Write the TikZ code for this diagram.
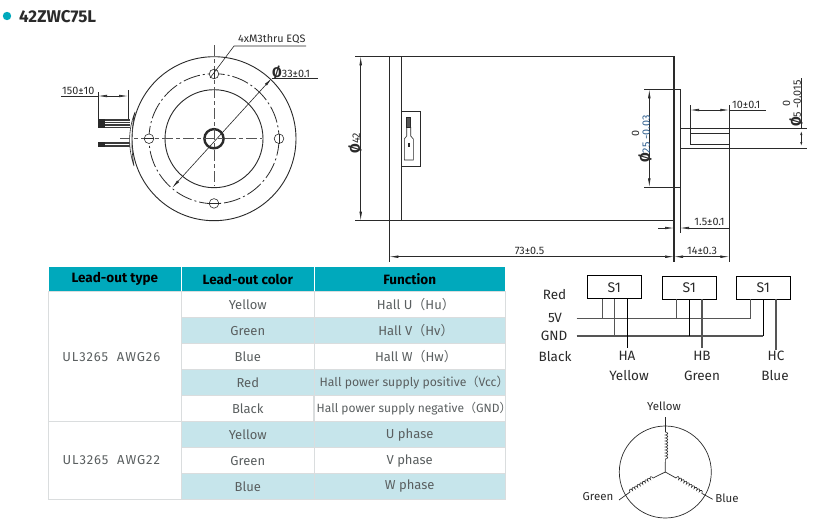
\documentclass[tikz,border=0pt]{standalone}
\usepackage{fontspec}
\setmainfont{Fira Sans}
\newfontfamily\cjk{Noto Sans CJK SC}
\usepackage{tikz}
\usetikzlibrary{arrows.meta,decorations.pathmorphing}
\definecolor{tealhead}{HTML}{00A9BC}
\definecolor{tealrow}{HTML}{C6E5EB}
\definecolor{cellline}{HTML}{DADDDE}
\definecolor{cellgray}{HTML}{5A5F60}
\definecolor{inkdark}{HTML}{2A2A2A}
\definecolor{inkwire}{HTML}{555555}
\definecolor{inkblue}{HTML}{2F5F8F}
\newcommand{\lp}{{\cjk（}}
\newcommand{\rp}{{\cjk）}\hspace*{-.5em}}
\tikzset{
	cell/.style={draw=cellline, line width=.9pt, inner sep=0pt, outer sep=0pt, text=cellgray, font=\fontsize{13}{15}\selectfont, align=center},
	colA/.style={cell, minimum width=133pt},
	colB/.style={cell, minimum width=133pt, minimum height=26pt},
	colC/.style={cell, minimum width=190.7pt, minimum height=26pt},
	head/.style={fill=tealhead, draw=white, text=black, font=\fontsize{13.5}{15}\selectfont\bfseries, minimum height=25pt},
	alt/.style={fill=tealrow},
	dimtext/.style={inner sep=0pt, text=inkdark, font=\fontsize{10.8}{12}\selectfont},
	wiretext/.style={inner sep=0pt, text=inkdark, font=\fontsize{13.5}{16}\selectfont},
	sbox/.style={draw=black, line width=.8pt, minimum width=54pt, minimum height=23pt, inner sep=0pt, outer sep=0pt, text=inkdark, font=\fontsize{14}{16}\selectfont},
	bodyline/.style={draw=inkdark, line width=.9pt},
	thinline/.style={draw=inkdark, line width=.6pt},
	dimboth/.style={thinline, {Latex[length=9pt,width=2.6pt]}-{Latex[length=9pt,width=2.6pt]}},
	dimleft/.style={thinline, {Latex[length=9pt,width=2.6pt]}-},
	dimright/.style={thinline, -{Latex[length=9pt,width=2.6pt]}},
	wire/.style={draw=inkwire, line width=1.3pt},
	wirekey/.style={draw=black, line width=.9pt},
	centerline/.style={draw=inkwire, line width=.7pt, dash pattern=on 11pt off 3pt on 4pt off 3pt},
	coilpart/.style={draw=inkdark, line width=.6pt, decorate, decoration={bumps, amplitude=2.4pt, segment length=6pt}},
}
\begin{document}
\begin{tikzpicture}[x=1pt, y=-1pt]
	\useasboundingbox (0,0) rectangle (840,522);
	\fill[white] (0,0) rectangle (840,522);
	\fill[tealhead] (7,16) circle (4.2);
	\node[anchor=west, inner sep=0pt, font=\fontsize{17}{19}\selectfont\bfseries, text=inkdark] (title) at (19,17) {42ZWC75L};

	\coordinate (hub) at (214,138.7);
	\draw[bodyline] (hub) circle (82);
	\draw[thinline, line width=.8pt, dash pattern=on 17pt off 3pt on 2pt off 3pt] (hub) circle (65);
	\draw[bodyline] (hub) circle (49);
	\draw[inkdark, line width=2.4pt] (hub) circle (9.6);
	\draw[centerline] (214,45) -- (214,186);
	\draw[centerline] (120,138.7) -- (262,138.7);
	\draw[thinline, fill=white] (214,74) circle (4.8);
	\draw[thinline, fill=white] (149,138.7) circle (4.8);
	\draw[thinline, fill=white] (279,138.7) circle (4.8);
	\draw[thinline, fill=white] (214,203.4) circle (4.8);
	\draw[thinline] (214,69) -- (214,79);
	\draw[thinline] (144,138.7) -- (154,138.7);
	\draw[thinline] (279,134) -- (279,144);
	\draw[thinline] (209,203.4) -- (219,203.4);
	\draw[thinline] (210,78) -- (234,46) -- (306,46);
	\node[dimtext, anchor=west] (holes) at (238,39.5) {4xM3thru EQS};
	\draw[dimboth] (172,188) -- (272,78);
	\draw[thinline] (272,78) -- (318,78);
	\node[dimtext, anchor=west] (boreDia) at (272,73) {{\fontsize{14}{14}\selectfont\bfseries Ø}33±0.1};
	\draw[thinline] (61,96) -- (98,96);
	\draw[dimright] (116,96) -- (98,96);
	\draw[dimright] (112,96) -- (128,96);
	\draw[thinline] (98,92) -- (98,122);
	\draw[thinline] (128,90) -- (128,120);
	\node[dimtext, anchor=west] (leadLen) at (62,91) {150±10};
	\fill[inkwire!70!black] (98,119) rectangle (130,127.5);
	\fill[inkdark] (98,119) rectangle (105,127.5);
	\draw[white, line width=.3pt] (105,121) -- (130,121);
	\draw[white, line width=.3pt] (105,123.5) -- (130,123.5);
	\draw[white, line width=.3pt] (105,125.7) -- (130,125.7);
	\fill[inkwire!70!black] (98,142) rectangle (130,147);
	\fill[inkdark] (98,142) rectangle (105,147);
	\draw[white, line width=.3pt] (105,144.5) -- (130,144.5);
	\draw[thinline, fill=white] (135,112) .. controls (128,130) and (128,148) .. (134,166) .. controls (131,148) and (131,130) .. (135,112) -- cycle;

	\draw[bodyline] (355,56.3) -- (674,56.3);
	\draw[bodyline] (355,220.7) -- (674,220.7);
	\draw[bodyline] (389.3,56.3) -- (389.3,262);
	\draw[bodyline, line width=1.2pt] (401.3,56.3) -- (401.3,220.7);
	\draw[bodyline, fill=white] (401.3,111.3) rectangle (420.7,166);
	\draw[thinline, fill=inkwire] (406.7,117) rectangle (410.7,127);
	\draw[thinline] (406.7,127) -- (406.7,136) -- (404.3,139) -- (404.3,160) -- (413.3,160) -- (413.3,139) -- (410.7,136) -- (410.7,127);
	\fill[inkdark] (408,143) rectangle (410,146.5);
	\draw[dimboth] (360.7,56.3) -- (360.7,220.7);
	\node[dimtext, rotate=90] (bodyDia) at (355,143) {{\fontsize{14}{14}\selectfont\bfseries Ø}42};
	\draw[bodyline, line width=1.2pt] (674,56.3) -- (674,262);
	\draw[bodyline] (644,89.3) -- (680,89.3) -- (680,187.3) -- (644,187.3);
	\draw[dimboth] (649.3,89.3) -- (649.3,187.3);
	\node[dimtext, rotate=90] (pilotZero) at (635.5,133.5) {0};
	\node[dimtext, rotate=90, anchor=west] (pilotDia) at (645,163) {{\fontsize{14}{14}\selectfont\bfseries Ø}\textcolor{inkblue}{25 -0.03}};
	\draw[bodyline] (680,128.7) -- (806.7,128.7);
	\draw[bodyline] (680,148.3) -- (806.7,148.3);
	\draw[thinline] (690,133) -- (729.3,133);
	\draw[thinline] (690,144) -- (729.3,144);
	\draw[thinline] (690,105) -- (690,144);
	\draw[thinline] (729.3,105) -- (729.3,262);
	\draw[dimboth] (690,110) -- (729.3,110);
	\draw[thinline] (729.3,110) -- (765.7,110);
	\node[dimtext, anchor=west] (flatLen) at (732,104.5) {10±0.1};
	\draw[thinline] (801.3,78) -- (801.3,128.7);
	\draw[thinline, {Latex[length=4pt,width=2.2pt]}-{Latex[length=4pt,width=2.2pt]}] (801.3,131) -- (801.3,146);
	\node[dimtext, rotate=90] (shaftZero) at (786.5,103) {0};
	\node[dimtext, rotate=90, anchor=west] (shaftDia) at (796,127) {{\fontsize{14}{14}\selectfont\bfseries Ø}5 -0.015};
	\draw[thinline] (680,187.3) -- (680,233);
	\draw[dimright] (658,228) -- (674,228);
	\draw[dimleft] (680,228) -- (729.3,228);
	\node[dimtext] (plateLen) at (709.5,222) {1.5±0.1};
	\draw[dimboth] (389.3,256.7) -- (674,256.7);
	\node[dimtext] (bodyLen) at (529.5,251) {73±0.5};
	\draw[dimboth] (674,256.7) -- (729.3,256.7);
	\node[dimtext] (shaftLen) at (702,250.5) {14±0.3};

	\node[colA, head] (typeHead) at (114.8,279.2) {Lead-out type};
	\node[colB, head] (colorHead) at (247.8,279.2) {Lead-out color};
	\node[colC, head] (funcHead) at (409.65,279.2) {Function};
	\node[colA, minimum height=130pt] (typeA) at (114.8,356.7) {\addfontfeature{LetterSpace=7}UL3265\ \ AWG26\hspace*{7pt}};
	\node[colA, minimum height=77.6pt] (typeB) at (114.8,460.5) {\addfontfeature{LetterSpace=7}UL3265\ \ AWG22\hspace*{7pt}};
	\node[colB] (colorA) at (247.8,304.7) {Yellow};
	\node[colB, alt] (colorB) at (247.8,330.7) {Green};
	\node[colB] (colorC) at (247.8,356.7) {Blue};
	\node[colB, alt] (colorD) at (247.8,382.7) {Red};
	\node[colB] (colorE) at (247.8,408.7) {Black};
	\node[colB, alt] (colorF) at (247.8,434.7) {Yellow};
	\node[colB] (colorG) at (247.8,460.7) {Green};
	\node[colB, alt] (colorH) at (247.8,486.5) {Blue};
	\node[colC] (funcA) at (409.65,304.7) {\hspace*{6pt}Hall U\lp Hu\rp};
	\node[colC, alt] (funcB) at (409.65,330.7) {\hspace*{6pt}Hall V\lp Hv\rp};
	\node[colC] (funcC) at (409.65,356.7) {\hspace*{6pt}Hall W\lp Hw\rp};
	\node[colC, alt, font=\fontsize{12.2}{13}\selectfont] (funcD) at (409.65,382.7) {\hspace*{3pt}Hall power supply positive\lp Vcc\rp};
	\node[colC, font=\fontsize{12}{13}\selectfont] (funcE) at (409.65,408.7) {\hspace*{3pt}Hall power supply negative\lp GND\rp};
	\node[colC, alt] (funcF) at (409.65,434.7) {U phase};
	\node[colC] (funcG) at (409.65,460.7) {V phase};
	\node[colC, alt] (funcH) at (409.65,486.5) {W phase};

	\node[sbox] (sensorA) at (614.3,287.2) {S1};
	\node[sbox] (sensorB) at (689.3,287.9) {S1};
	\node[sbox] (sensorC) at (763.3,287.9) {S1};
	\node[wiretext] (redText) at (554.5,295) {Red};
	\node[wiretext] (vText) at (555,318) {5V};
	\node[wiretext] (gndText) at (554,336) {GND};
	\node[wiretext] (blackText) at (555,357) {Black};
	\node[wiretext] (haText) at (627,356) {HA};
	\node[wiretext] (yellowText) at (629,376) {Yellow};
	\node[wiretext] (hbText) at (702,356) {HB};
	\node[wiretext] (greenText) at (702,376) {Green};
	\node[wiretext] (hcText) at (776,356) {HC};
	\node[wiretext] (blueText) at (775,376) {Blue};
	\coordinate (vLeft) at (576.7,318.3);
	\coordinate (gndLeft) at (576.7,336);
	\coordinate (vA) at (602.3,318.3);
	\coordinate (gndA) at (614.7,336);
	\coordinate (outA) at (627.3,348);
	\coordinate (vB) at (676.7,318.3);
	\coordinate (gndB) at (689.3,336);
	\coordinate (outB) at (702,348);
	\coordinate (vC) at (750.7,318.3);
	\coordinate (gndC) at (763.3,336);
	\coordinate (outC) at (776,350);
	\draw[wire] (vLeft) -- (vC) -- (sensorC.south -| vC);
	\draw[wire] (gndLeft) -- (gndC);
	\draw[wirekey] (gndC) -- (sensorC.south -| gndC);
	\draw[wire] (sensorC.south -| outC) -- (outC);
	\draw[wire] (sensorA.south -| vA) -- (vA);
	\draw[wire] (sensorA.south -| gndA) -- (gndA);
	\draw[wirekey] (sensorA.south -| outA) -- (outA);
	\draw[wire] (sensorB.south -| vB) -- (vB);
	\draw[wirekey] (sensorB.south -| gndB) -- (gndB);
	\draw[wire] (sensorB.south -| outB) -- (outB);

	\coordinate (star) at (665.3,472);
	\draw[thinline, line width=.7pt] (star) circle (46);
	\node[dimtext, font=\fontsize{11.5}{13}\selectfont] (coilYellow) at (664,406) {Yellow};
	\node[dimtext, font=\fontsize{11.5}{13}\selectfont] (coilGreen) at (598,497) {Green};
	\node[dimtext, font=\fontsize{11.5}{13}\selectfont] (coilBlue) at (727,498) {Blue};
	\coordinate (yellowEnd) at (665.3,417);
	\coordinate (greenEnd) at (619,500);
	\coordinate (blueEnd) at (712.7,499.3);
	\coordinate (yellowTop) at (665.3,432);
	\coordinate (yellowLow) at (665.3,462);
	\coordinate (greenIn) at (654,477.5);
	\coordinate (greenOut) at (630,492);
	\coordinate (blueIn) at (676,478);
	\coordinate (blueOut) at (703,494);
	\draw[thinline, line width=.7pt] (yellowEnd) -- (yellowTop);
	\draw[coilpart] (yellowTop) -- (yellowLow);
	\draw[thinline, line width=.7pt] (yellowLow) -- (star) -- (greenIn);
	\draw[coilpart] (greenOut) -- (greenIn);
	\draw[thinline, line width=.7pt] (greenOut) -- (greenEnd);
	\draw[thinline, line width=.7pt] (star) -- (blueIn);
	\draw[coilpart] (blueIn) -- (blueOut);
	\draw[thinline, line width=.7pt] (blueOut) -- (blueEnd);
\end{tikzpicture}
\end{document}
